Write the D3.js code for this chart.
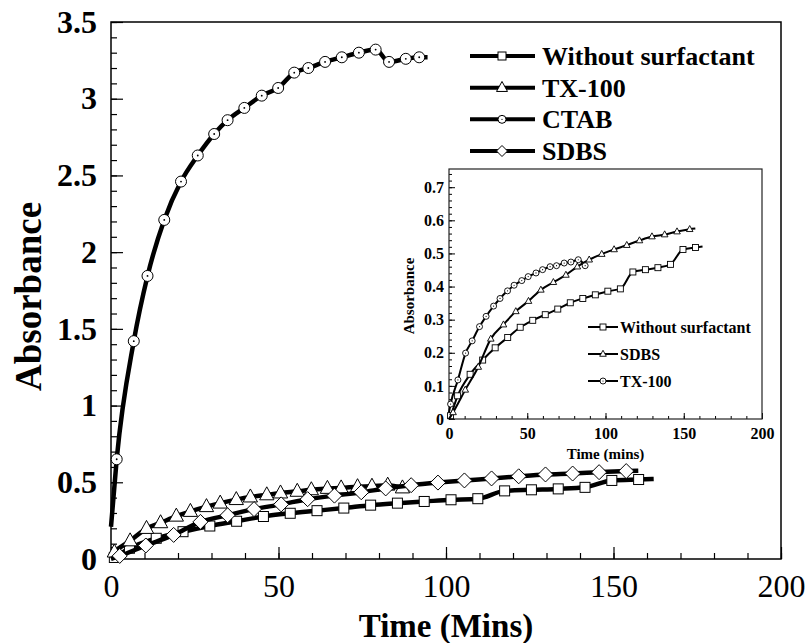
<!DOCTYPE html>
<html>
<head>
<meta charset="utf-8">
<script src="https://cdn.jsdelivr.net/npm/d3@7"></script>
<style>
  body { margin: 0; background: #fff; }
  svg { display: block; }
</style>
</head>
<body>
<div class="chart"></div>
<script>
// ---- data ----
const timeWithout = [1, 5.5, 13.5, 21.5, 29.5, 37.5, 45.5, 53.5, 61.5, 69.5, 77.5, 85.5, 93.5, 101.5, 109.5, 117.5, 125.5, 133.5, 141.5, 149.5, 157.5];
const absWithout  = [0.01, 0.07, 0.135, 0.178, 0.215, 0.246, 0.277, 0.298, 0.315, 0.332, 0.351, 0.364, 0.375, 0.386, 0.393, 0.444, 0.451, 0.457, 0.467, 0.512, 0.518];

const timeTX = [1, 5.7, 10.6, 14.8, 19.5, 23.7, 28.5, 32.6, 37.4, 41.6, 46.5, 50.6, 55.6, 59.8, 64.6, 68.7, 73.6, 77.9, 82.6, 87];
const absTX  = [0.045, 0.118, 0.199, 0.236, 0.279, 0.31, 0.341, 0.364, 0.387, 0.404, 0.418, 0.43, 0.441, 0.451, 0.46, 0.463, 0.471, 0.474, 0.481, 0.463];

const timeSDBS = [2.6, 10.4, 18.7, 26.7, 34.8, 42.7, 50.8, 58.7, 66.7, 74.7, 82, 89.6, 97.6, 105.5, 113.6, 121.7, 129.7, 137.8, 145.7, 153.8];
const absSDBS  = [0.02, 0.088, 0.157, 0.242, 0.285, 0.325, 0.356, 0.39, 0.413, 0.435, 0.46, 0.481, 0.498, 0.512, 0.525, 0.539, 0.551, 0.557, 0.566, 0.573];

const timeCTAB = [1.7, 6.8, 10.9, 15.9, 20.9, 25.9, 30.8, 34.8, 39.8, 45, 49.9, 54.7, 58.9, 63.9, 68.9, 74, 79, 83, 88, 92];
const absCTAB  = [0.65, 1.42, 1.845, 2.21, 2.46, 2.63, 2.77, 2.86, 2.94, 3.02, 3.07, 3.17, 3.2, 3.24, 3.27, 3.3, 3.32, 3.24, 3.26, 3.27];

// where the fitted lines start / stop beyond the markers
const lineStart = { without: [0, 0], tx: [0, 0.02], sdbs: [0, 0], ctab: [0, 0.21] };
const lineEnd   = { without: [162, 0.521], tx: null, sdbs: [157.4, 0.575], ctab: [94.5, 3.27] };

const mainXTicks = [0, 50, 100, 150, 200];
const mainYTicks = [0, 0.5, 1, 1.5, 2, 2.5, 3, 3.5];
const insetXTicks = [0, 50, 100, 150, 200];
const insetYTicks = [0, 0.1, 0.2, 0.3, 0.4, 0.5, 0.6, 0.7];

const mainLegend  = ["Without surfactant", "TX-100", "CTAB", "SDBS"];
const insetLegend = ["Without surfactant", "SDBS", "TX-100"];

const zip = (t, a) => t.map((d, i) => ({ t: d, a: a[i] }));

const series = {
    without: zip(timeWithout, absWithout),
    tx: zip(timeTX, absTX),
    sdbs: zip(timeSDBS, absSDBS),
    ctab: zip(timeCTAB, absCTAB)
};

const lineData = key => {
    const pts = [{ t: lineStart[key][0], a: lineStart[key][1] }].concat(series[key]);
    if (lineEnd[key]) pts.push({ t: lineEnd[key][0], a: lineEnd[key][1] });
    return pts;
};

const FONT = "'Liberation Serif', 'Times New Roman', serif";

const svg = d3.select(".chart")
    .append("svg")
    .attr("width", 811)
    .attr("height", 643);

// marker drawing
const drawMarker = (g, shape, x, y, s, sw) => {
    if (shape === "square") {
        g.append("rect").attr("x", x - s / 2).attr("y", y - s / 2)
            .attr("width", s).attr("height", s)
            .attr("fill", "#fff").attr("stroke", "#000").attr("stroke-width", sw);
    } else if (shape === "triangle") {
        g.append("path")
            .attr("d", `M${x},${y - s * 0.62}L${x + s * 0.55},${y + s * 0.38}L${x - s * 0.55},${y + s * 0.38}Z`)
            .attr("fill", "#fff").attr("stroke", "#000").attr("stroke-width", sw);
    } else if (shape === "diamond") {
        g.append("path")
            .attr("d", `M${x},${y - s / 2}L${x + s / 2},${y}L${x},${y + s / 2}L${x - s / 2},${y}Z`)
            .attr("fill", "#fff").attr("stroke", "#000").attr("stroke-width", sw);
    } else if (shape === "circle") {
        g.append("circle").attr("cx", x).attr("cy", y).attr("r", s / 2)
            .attr("fill", "#fff").attr("stroke", "#000").attr("stroke-width", sw);
        g.append("circle").attr("cx", x).attr("cy", y).attr("r", Math.max(0.6, s / 12))
            .attr("fill", "#000");
    }
};

// ================= main chart =================
const x = d3.scaleLinear().domain([0, 200]).range([111, 781]);
const y = d3.scaleLinear().domain([0, 3.5]).range([559, 22]);

// minor ticks
svg.append("g")
    .attr("transform", "translate(0,559)")
    .call(d3.axisBottom(x).tickValues(d3.range(0, 201, 10)).tickSize(-6).tickFormat(""))
    .call(g => g.select(".domain").remove());
svg.append("g")
    .attr("transform", "translate(111,0)")
    .call(d3.axisLeft(y).tickValues(d3.range(0, 36).map(d => d / 10)).tickSize(-6).tickFormat(""))
    .call(g => g.select(".domain").remove());

// major ticks + labels
const xAxis = svg.append("g")
    .attr("transform", "translate(0,559)")
    .call(d3.axisBottom(x).tickValues(mainXTicks).tickSize(-12).tickPadding(15).tickFormat(d3.format("")));
xAxis.select(".domain").remove();
xAxis.selectAll("text")
    .attr("font-family", FONT).attr("font-size", "32px").attr("fill", "#000");

const yAxis = svg.append("g")
    .attr("transform", "translate(111,0)")
    .call(d3.axisLeft(y).tickValues(mainYTicks).tickSize(-12).tickPadding(14).tickFormat(d3.format("")));
yAxis.select(".domain").remove();
yAxis.selectAll("text")
    .attr("font-family", FONT).attr("font-size", "32px").attr("font-weight", "bold").attr("fill", "#000");

svg.selectAll(".tick line").attr("stroke", "#000").attr("stroke-width", 1.2);

// frame
svg.append("rect")
    .attr("x", x(0)).attr("y", y(3.5))
    .attr("width", x(200) - x(0)).attr("height", y(0) - y(3.5))
    .attr("fill", "none").attr("stroke", "#000").attr("stroke-width", 1.5);

// axis titles
svg.append("text")
    .text("Time (Mins)")
    .attr("x", x(100)).attr("y", 637)
    .attr("text-anchor", "middle")
    .attr("font-family", FONT).attr("font-size", "33px").attr("font-weight", "bold");

svg.append("text")
    .text("Absorbance")
    .attr("transform", `translate(41,${(y(0) + y(3.5)) / 2 + 6}) rotate(-90)`)
    .attr("text-anchor", "middle")
    .attr("font-family", FONT).attr("font-size", "37px").attr("font-weight", "bold");

// curves
const mainLine = d3.line().x(d => x(d.t)).y(d => y(d.a)).curve(d3.curveMonotoneX);
const mainShapes = { without: "square", tx: "triangle", ctab: "circle", sdbs: "diamond" };
const mainSizes = { without: 10, tx: 13, ctab: 11, sdbs: 15 };

["without", "tx", "ctab", "sdbs"].forEach(key => {
    svg.append("path")
        .attr("d", mainLine(lineData(key)))
        .attr("fill", "none").attr("stroke", "#000").attr("stroke-width", 4.5);
    const g = svg.append("g");
    series[key].forEach(d => drawMarker(g, mainShapes[key], x(d.t), y(d.a), mainSizes[key], 1));
});

// main legend
const legKeys = ["without", "tx", "ctab", "sdbs"];
const legY = d3.scalePoint().domain(mainLegend).range([56, 151]);
mainLegend.forEach((name, i) => {
    const ly = legY(name);
    svg.append("line").attr("x1", 470).attr("x2", 535).attr("y1", ly).attr("y2", ly)
        .attr("stroke", "#000").attr("stroke-width", 4);
    const g = svg.append("g");
    const k = legKeys[i];
    drawMarker(g, mainShapes[k], 502, ly, k === "sdbs" ? 11 : (k === "tx" ? 10 : 8), 1);
    svg.append("text").text(name)
        .attr("x", 542).attr("y", ly + 9)
        .attr("font-family", FONT).attr("font-size", "26px").attr("font-weight", "bold");
});

// ================= inset chart =================
const ix = d3.scaleLinear().domain([0, 200]).range([449, 762]);
const iy = d3.scaleLinear().domain([0, 0.755]).range([419, 169]);

const inset = svg.append("g");
inset.append("rect")
    .attr("x", ix(0)).attr("y", iy(0.755))
    .attr("width", ix(200) - ix(0)).attr("height", iy(0) - iy(0.755))
    .attr("fill", "#fff");

inset.append("g")
    .attr("transform", "translate(0,419)")
    .call(d3.axisBottom(ix).tickValues(d3.range(0, 201, 10)).tickSize(-3).tickFormat(""))
    .call(g => g.select(".domain").remove());
inset.append("g")
    .attr("transform", "translate(449,0)")
    .call(d3.axisLeft(iy).tickValues(d3.range(0, 38).map(d => d / 50)).tickSize(-3).tickFormat(""))
    .call(g => g.select(".domain").remove());

const ixAxis = inset.append("g")
    .attr("transform", "translate(0,419)")
    .call(d3.axisBottom(ix).tickValues(insetXTicks).tickSize(-6).tickPadding(9).tickFormat(d3.format("")));
ixAxis.select(".domain").remove();
ixAxis.selectAll("text")
    .attr("font-family", FONT).attr("font-size", "16px").attr("font-weight", "bold").attr("fill", "#000");

const iyAxis = inset.append("g")
    .attr("transform", "translate(449,0)")
    .call(d3.axisLeft(iy).tickValues(insetYTicks).tickSize(-6).tickPadding(5).tickFormat(d3.format("")));
iyAxis.select(".domain").remove();
iyAxis.selectAll("text")
    .attr("font-family", FONT).attr("font-size", "16px").attr("font-weight", "bold").attr("fill", "#000");

inset.selectAll(".tick line").attr("stroke", "#000").attr("stroke-width", 1);

inset.append("rect")
    .attr("x", ix(0)).attr("y", iy(0.755))
    .attr("width", ix(200) - ix(0)).attr("height", iy(0) - iy(0.755))
    .attr("fill", "none").attr("stroke", "#222").attr("stroke-width", 1.2);

inset.append("text")
    .text("Time (mins)")
    .attr("x", ix(100)).attr("y", 459)
    .attr("text-anchor", "middle")
    .attr("font-family", FONT).attr("font-size", "15px").attr("font-weight", "bold");

inset.append("text")
    .text("Absorbance")
    .attr("transform", `translate(414,${(iy(0) + iy(0.755)) / 2 + 2}) rotate(-90)`)
    .attr("text-anchor", "middle")
    .attr("font-family", FONT).attr("font-size", "15px").attr("font-weight", "bold");

const insetLine = d3.line().x(d => ix(d.t)).y(d => iy(d.a)).curve(d3.curveMonotoneX);
const insetShapes = { without: "square", sdbs: "triangle", tx: "circle" };
const insetSizes = { without: 6, sdbs: 6, tx: 6 };

["without", "sdbs", "tx"].forEach(key => {
    inset.append("path")
        .attr("d", insetLine(lineData(key)))
        .attr("fill", "none").attr("stroke", "#000").attr("stroke-width", 2);
    const g = inset.append("g");
    series[key].forEach(d => drawMarker(g, insetShapes[key], ix(d.t), iy(d.a), insetSizes[key], 0.9));
});

// inset legend
const iLegKeys = ["without", "sdbs", "tx"];
const iLegY = d3.scalePoint().domain(insetLegend).range([327, 381]);
insetLegend.forEach((name, i) => {
    const ly = iLegY(name);
    inset.append("line").attr("x1", 588).attr("x2", 618).attr("y1", ly).attr("y2", ly)
        .attr("stroke", "#000").attr("stroke-width", 2);
    const g = inset.append("g");
    drawMarker(g, insetShapes[iLegKeys[i]], 603, ly, 6, 0.9);
    inset.append("text").text(name)
        .attr("x", 620).attr("y", ly + 5.5)
        .attr("font-family", FONT).attr("font-size", "16px").attr("font-weight", "bold");
});
</script>
</body>
</html>
